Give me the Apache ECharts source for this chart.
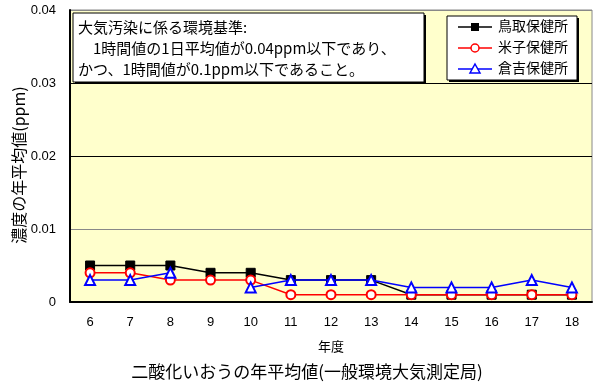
<!DOCTYPE html>
<html><head><meta charset="utf-8">
<script src="https://cdn.jsdelivr.net/npm/echarts@6/dist/echarts.min.js"></script>
<style>html,body{margin:0;padding:0;background:#fff}#c{width:600px;height:388px}</style>
</head><body><div id="c"></div>
<script>
const years = ['6','7','8','9','10','11','12','13','14','15','16','17','18'];
const tottori = [0.005,0.005,0.005,0.004,0.004,0.003,0.003,0.003,0.001,0.001,0.001,0.001,0.001];
const yonago  = [0.004,0.004,0.003,0.003,0.003,0.001,0.001,0.001,0.001,0.001,0.001,0.001,0.001];
const kurayoshi = [0.003,0.003,0.004,null,0.002,0.003,0.003,0.003,0.002,0.002,0.002,0.003,0.002];
const seriesNames = ['鳥取保健所','米子保健所','倉吉保健所'];
const yTicks = [0,0.01,0.02,0.03,0.04];
const noteLines = ['大気汚染に係る環境基準:','　1時間値の1日平均値が0.04ppm以下であり、','かつ、1時間値が0.1ppm以下であること。'];
const title = '二酸化いおうの年平均値(一般環境大気測定局)';
const xName = '年度';
const yName = '濃度の年平均値(ppm)';

const jp = '"MS PGothic","Noto Sans CJK JP",sans-serif';
const chart = echarts.init(document.getElementById('c'));
const GL=70, GT=10, GR=592, GB=302;
chart.setOption({
  animation:false,
  backgroundColor:'#fff',
  title:{show:false},
  grid:{left:GL,top:GT,width:GR-GL,height:GB-GT,show:true,backgroundColor:'#FFFFCC',borderColor:'#888',borderWidth:1},
  legend:{show:false},
  xAxis:{type:'category',data:years,boundaryGap:true,
    name:xName,nameLocation:'middle',nameGap:38,nameTextStyle:{fontFamily:jp,fontSize:13,color:'#000'},
    axisLine:{lineStyle:{color:'#000',width:2}},axisTick:{show:false},
    axisLabel:{margin:14,fontFamily:'"Liberation Sans",Arial,sans-serif',fontSize:13,color:'#000'},
    splitLine:{show:false}},
  yAxis:{type:'value',min:0,max:0.04,interval:0.01,
    axisLine:{show:true,lineStyle:{color:'#000',width:2}},axisTick:{show:false},
    axisLabel:{margin:14,fontFamily:'"Liberation Sans",Arial,sans-serif',fontSize:13,color:'#000',
      formatter:v=>{const t=yTicks.find(x=>Math.abs(x-v)<1e-9);return t===undefined?'':String(t);}},
    splitLine:{show:true,lineStyle:{color:['#000','#888','#000','#000','#888'],width:1}}},
  series:[
    {name:seriesNames[0],type:'line',data:tottori,symbol:'rect',symbolSize:9,
      itemStyle:{color:'#000',borderColor:'#000'},lineStyle:{color:'#000',width:1.5},z:2},
    {name:seriesNames[1],type:'line',data:yonago,symbol:'emptyCircle',symbolSize:9,
      itemStyle:{color:'#f00',borderColor:'#f00',borderWidth:1.5},lineStyle:{color:'#f00',width:1.5},z:3},
    {name:seriesNames[2],type:'line',data:kurayoshi,symbol:'emptyTriangle',symbolSize:10,connectNulls:false,
      itemStyle:{color:'#00f',borderColor:'#00f',borderWidth:1.5},lineStyle:{color:'#00f',width:1.5},z:4}
  ],
  graphic:[
    {type:'text',x:307,y:372,z:5,style:{text:title,font:'17px '+jp,fill:'#000',align:'center',verticalAlign:'middle'}},
    {type:'text',x:19,y:165,rotation:Math.PI/2,z:5,style:{text:yName,font:'16px '+jp,fill:'#000',align:'center',verticalAlign:'middle'}},
    {type:'rect',shape:{x:75,y:15,width:351,height:69},style:{fill:'#000'},z:10},
    {type:'rect',shape:{x:73,y:13,width:351,height:69},style:{fill:'#fff',stroke:'#000',lineWidth:1},z:11},
    {type:'text',left:78,top:17,z:12,style:{text:noteLines.join('\n'),font:'15px '+jp,fill:'#000',lineHeight:21}},
    {type:'rect',shape:{x:449,y:18,width:130,height:64},style:{fill:'#000'},z:10},
    {type:'rect',shape:{x:447,y:16,width:130,height:64},style:{fill:'#fff',stroke:'#000',lineWidth:1},z:11},
    ...seriesNames.map((n,i)=>({type:'group',z:12,children:[
      {type:'line',shape:{x1:458,y1:27+i*21,x2:492,y2:27+i*21},style:{stroke:['#000','#f00','#00f'][i],lineWidth:1.5},z:12},
      {type:'text',left:498,top:19+i*21,z:12,style:{text:n,font:'14px '+jp,fill:'#000'}}
    ]})),
    {type:'rect',shape:{x:471,y:23,width:8,height:8},style:{fill:'#000'},z:13},
    {type:'circle',shape:{cx:475,cy:48,r:4},style:{fill:'#fff',stroke:'#f00',lineWidth:1.5},z:13},
    {type:'polygon',shape:{points:[[475,64],[480,73],[470,73]]},style:{fill:'#fff',stroke:'#00f',lineWidth:1.5},z:13}
  ]
});
</script></body></html>
